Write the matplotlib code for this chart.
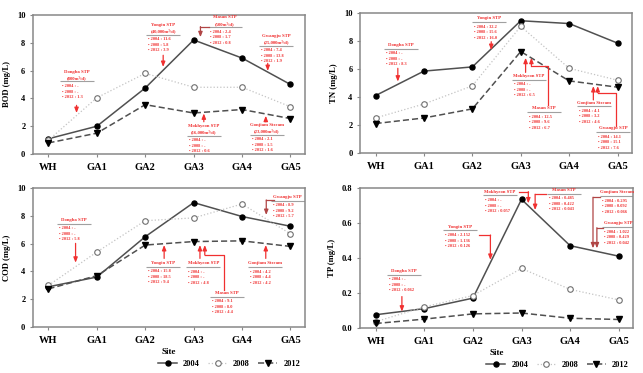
import numpy as np
import matplotlib
matplotlib.use("Agg")
import matplotlib.pyplot as plt

plt.rcParams['font.family'] = ['Liberation Serif', 'DejaVu Serif']
plt.rcParams['font.weight'] = 'bold'

# ======================
# data
# ======================
sites = ["WH", "GA1", "GA2", "GA3", "GA4", "GA5"]
years = ["2004", "2008", "2012"]

bod_2004 = [1.1, 2.0, 4.75, 8.2, 6.9, 5.0]
bod_2008 = [1.0, 4.05, 5.8, 4.8, 4.8, 3.4]
bod_2012 = [0.8, 1.5, 3.55, 2.95, 3.2, 2.55]

tn_2004 = [4.1, 5.85, 6.15, 9.45, 9.25, 7.85]
tn_2008 = [2.5, 3.5, 4.8, 9.05, 6.05, 5.2]
tn_2012 = [2.1, 2.5, 3.15, 7.25, 5.15, 4.7]

cod_2004 = [2.9, 3.6, 6.5, 8.95, 7.95, 7.25]
cod_2008 = [3.0, 5.4, 7.65, 7.85, 8.85, 6.7]
cod_2012 = [2.75, 3.7, 5.9, 6.15, 6.2, 5.8]

tp_2004 = [0.075, 0.11, 0.17, 0.735, 0.47, 0.41]
tp_2008 = [0.035, 0.12, 0.185, 0.34, 0.22, 0.16]
tp_2012 = [0.025, 0.05, 0.08, 0.085, 0.055, 0.048]

# STP notes: (title, entries, header x/y, arrow path, arrow colour)
RED = "#f03030"
DARK = "#b04545"

bod_notes = [
    ("Dongba STP\n(800m³/d)", ["-", "-", "1.3"], (0.58, 5.92), [(0.58, 3.5), (0.58, 2.95)], RED),
    ("Yongin STP\n(40,000m³/d)", ["11.6", "5.8", "3.9"], (2.37, 9.28), [(2.37, 7.1), (2.37, 6.26)], RED),
    ("Masan STP\n(500m³/d)", ["2.4", "1.7", "0.8"], (3.64, 9.83), [(3.31, 9.16), (3.14, 9.16), (3.14, 8.4)], DARK),
    ("Gwangju STP\n(25,000m³/d)", ["7.4", "13.8", "1.9"], (4.71, 8.49), [(4.53, 6.52), (4.53, 5.97)], RED),
    ("Mokhyeon STP\n(16,000m³/d)", ["-", "-", "0.6"], (3.21, 2.01), [(3.21, 2.32), (3.21, 2.92)], RED),
    ("Gonjiam Stream\n(23,000m³/d)", ["2.1", "1.5", "1.6"], (4.51, 2.09), [(4.49, 2.32), (4.49, 2.75)], RED),
]

tn_notes = [
    ("Dongba STP", ["-", "-", "8.3"], (0.53, 7.71), [(0.46, 6.05), (0.46, 5.1)], RED),
    ("Yongin STP", ["32.2", "15.6", "16.0"], (2.35, 9.62), [(2.39, 7.95), (2.39, 7.36)], RED),
    ("Mokhyeon STP", ["-", "-", "6.5"], (3.17, 5.5), [(3.1, 5.76), (3.1, 6.8)], RED),
    ("Masan STP", ["12.5", "9.6", "6.7"], (3.47, 3.19), [(3.57, 3.45), (3.57, 6.25), (3.22, 6.25), (3.22, 6.8)], RED),
    ("Gonjiam Stream", ["4.1", "3.2", "4.6"], (4.51, 3.6), [(4.5, 3.79), (4.5, 4.78)], RED),
    ("Gwangju STP", ["14.1", "15.1", "7.6"], (4.91, 1.76), [(4.96, 1.93), (4.96, 4.31), (4.59, 4.31), (4.59, 4.78)], RED),
]

cod_notes = [
    ("Dongba STP", ["-", "-", "5.8"], (0.52, 7.7), [(0.56, 6.02), (0.56, 4.63)], RED),
    ("Yongin STP", ["15.8", "18.5", "9.4"], (2.37, 4.63), [(2.39, 4.94), (2.39, 5.9)], RED),
    ("Mokhyeon STP", ["-", "-", "4.8"], (3.2, 4.58), [(3.13, 4.94), (3.13, 5.9)], RED),
    ("Masan STP", ["9.1", "8.0", "4.4"], (3.69, 2.47), [(3.63, 2.66), (3.63, 5.18), (3.23, 5.18), (3.23, 5.9)], RED),
    ("Gonjiam Stream", ["4.2", "4.4", "4.2"], (4.47, 4.58), [(4.49, 4.94), (4.49, 5.9)], RED),
    ("Gwangju STP", ["8.9", "9.2", "5.7"], (4.94, 9.37), [(4.67, 9.14), (4.5, 9.14), (4.5, 8.06)], DARK),
]

tp_notes = [
    ("Dongba STP", ["-", "-", "0.062"], (0.59, 0.326), [(0.54, 0.179), (0.54, 0.093)], RED),
    ("Yongin STP", ["2.152", "1.136", "0.126"], (1.74, 0.579), [(2.13, 0.531), (2.36, 0.531), (2.36, 0.389)], RED),
    ("Mokhyeon STP", ["-", "-", "0.057"], (2.55, 0.779), [(2.95, 0.779), (3.14, 0.779), (3.14, 0.712)], RED),
    ("Masan STP", ["0.485", "0.422", "0.043"], (3.88, 0.789), [(3.5, 0.764), (3.28, 0.764), (3.28, 0.674)], RED),
    ("Gonjiam Stream", ["0.295", "0.092", "0.066"], (4.97, 0.775), [(4.61, 0.747), (4.47, 0.747), (4.47, 0.455)], DARK),
    ("Gwangju STP", ["1.022", "0.429", "0.042"], (5.0, 0.598), [(4.68, 0.573), (4.55, 0.573), (4.55, 0.455)], DARK),
]

# ======================
# figure
# ======================
fig = plt.figure(figsize=(6.43, 3.73), dpi=100)

panels = [
    ([0.0513, 0.587, 0.423, 0.373], "BOD (mg/L)", (bod_2004, bod_2008, bod_2012), (0, 10), np.arange(0, 11, 2), bod_notes, False),
    ([0.560, 0.590, 0.423, 0.375], "TN (mg/L)", (tn_2004, tn_2008, tn_2012), (0, 10), np.arange(0, 11, 2), tn_notes, False),
    ([0.0513, 0.123, 0.423, 0.373], "COD (mg/L)", (cod_2004, cod_2008, cod_2012), (0, 10), np.arange(0, 11, 2), cod_notes, True),
    ([0.560, 0.121, 0.425, 0.375], "TP (mg/L)", (tp_2004, tp_2008, tp_2012), (0, 0.8), np.arange(0, 0.81, 0.2), tp_notes, True),
]

styles = [
    dict(color="#505050", lw=1.1, ls="-", marker="o", ms=3.6, mfc="black", mec="black"),
    dict(color="#c4c4c4", lw=0.9, ls=":", marker="o", ms=4.0, mfc="white", mec="#707070", mew=0.8),
    dict(color="#505050", lw=1.1, ls=(0, (4, 2)), marker="v", ms=3.8, mfc="black", mec="black"),
]

GRID = "#888888"


def shift(ax, x, y, dx, dy):
    # move a data point by some pixels, back in data units
    px, py = ax.transData.transform((x, y))
    return ax.transData.inverted().transform((px + dx, py + dy))


def stp_note(ax, note):
    title, vals, (x, y), path, acol = note
    lines = title.split("\n")
    for i, line in enumerate(lines):
        tx, ty = shift(ax, x, y, 0, -6 * i)
        ax.text(tx, ty, line, color=RED, fontsize=3.4, ha="center", va="center")
    uy = -6 * (len(lines) - 1) - 3.8
    (x0, y0), (x1, y1) = shift(ax, x, y, -17, uy), shift(ax, x, y, 17, uy)
    ax.plot([x0, x1], [y0, y1], color="#a0a0a0", lw=0.8, solid_capstyle="butt")
    for i, (yr, v) in enumerate(zip(years, vals)):
        tx, ty = shift(ax, x, y, -15, uy - 4.6 - 5.5 * i)
        ax.text(tx, ty, "• %s : %s" % (yr, v), color=RED, fontsize=3.2, ha="left", va="center")
    xs = [p[0] for p in path]
    ys = [p[1] for p in path]
    if len(path) > 2:
        ax.plot(xs[:-1], ys[:-1], color=acol, lw=0.9)
    ax.annotate("", xy=path[-1], xytext=path[-2],
                arrowprops=dict(arrowstyle="-|>,head_length=0.3,head_width=0.12",
                                color=acol, lw=0.9, shrinkA=0, shrinkB=0))


for pos, ylab, series, ylim, yticks, notes, bottom in panels:
    ax = fig.add_axes(pos)
    x = np.arange(len(sites))
    handles = []
    for vals, st, yr in zip(series, styles, years):
        h, = ax.plot(x, vals, label=yr, **st)
        handles.append(h)

    ax.set_xlim(-0.32, 5.3)
    ax.set_ylim(*ylim)
    ax.set_xticks(x)
    ax.set_xticklabels(sites, fontsize=7.5, fontweight="bold")
    ax.set_yticks(yticks)
    if ylim[1] < 1:
        ax.set_yticklabels(["%.1f" % t for t in yticks], fontsize=6, fontweight="bold")
    else:
        ax.set_yticklabels(["%d" % t for t in yticks], fontsize=6, fontweight="bold")
    ax.set_ylabel(ylab, fontsize=6.2, fontweight="bold", labelpad=4)
    for s in ax.spines.values():
        s.set_color(GRID)
        s.set_linewidth(1.1)
    ax.tick_params(direction="out", length=2.5, width=0.8, color=GRID, pad=4)
    ax.tick_params(axis="y", pad=3)

    for note in notes:
        stp_note(ax, note)

    if bottom:
        ax.set_xlabel("Site", fontsize=6.5, fontweight="bold", labelpad=2)
        ax.legend(handles=handles, loc="center right", bbox_to_anchor=(1.0, -0.265),
                  ncol=3, frameon=False, fontsize=6, handlelength=2.3,
                  columnspacing=1.0, handletextpad=0.7, borderaxespad=0.2)

plt.savefig("out.png", dpi=100)
